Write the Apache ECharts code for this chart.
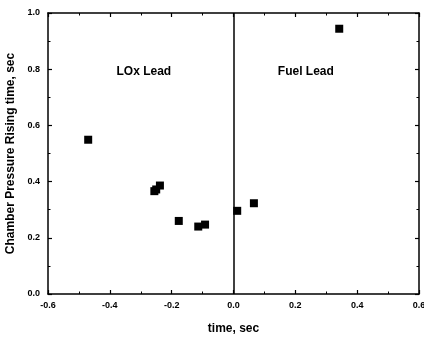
<!DOCTYPE html>
<html><head><meta charset="utf-8">
<script src="https://cdn.jsdelivr.net/npm/echarts@6/dist/echarts.min.js"></script>
<style>html,body{margin:0;padding:0;background:#fff}#c{width:424px;height:337px}</style>
</head><body><div id="c"></div>
<script>
const timeValues = [-0.47, -0.256, -0.25, -0.238, -0.177, -0.114, -0.092, 0.012, 0.066, 0.342];
const riseValues = [0.549, 0.366, 0.372, 0.386, 0.260, 0.240, 0.247, 0.296, 0.323, 0.944];
const regionLabels = ['LOx Lead', 'Fuel Lead'];
const regionX = [-0.29, 0.234];
const regionY = [0.79, 0.79];

const chart = echarts.init(document.getElementById('c'));
function axisCommon() {
  return {
    axisLine: {show: true, onZero: false, lineStyle: {color: '#000', width: 1.5}},
    axisTick: {show: true, inside: true, length: 4, lineStyle: {color: '#000', width: 1.2}},
    minorTick: {show: true, splitNumber: 2, length: 2.5, lineStyle: {color: '#000', width: 1}},
    splitLine: {show: false}
  };
}
const labelStyle = {color: '#000', fontSize: 9, fontWeight: 'bold', fontFamily: 'Liberation Sans'};
const titleStyle = {color: '#000', fontSize: 12, fontWeight: 'bold', fontFamily: 'Liberation Sans'};
chart.setOption({
  animation: false,
  backgroundColor: '#fff',
  grid: {left: 48, right: 5, top: 13, bottom: 43, outerBoundsMode: 'none', containLabel: false},
  xAxis: [
    Object.assign({type: 'value', min: -0.6, max: 0.6, interval: 0.2, position: 'bottom',
      name: 'time, sec', nameLocation: 'middle', nameGap: 29, nameTextStyle: titleStyle,
      axisLabel: Object.assign({margin: 7, formatter: v => v.toFixed(1)}, labelStyle)}, axisCommon()),
    Object.assign({type: 'value', min: -0.6, max: 0.6, interval: 0.2, position: 'top',
      axisLabel: {show: false}}, axisCommon())
  ],
  yAxis: [
    Object.assign({type: 'value', min: 0, max: 1, interval: 0.2, position: 'left',
      name: 'Chamber Pressure Rising time, sec', nameLocation: 'middle', nameGap: 27, nameTextStyle: titleStyle,
      axisLabel: Object.assign({margin: 8, formatter: v => v.toFixed(1)}, labelStyle)}, axisCommon()),
    Object.assign({type: 'value', min: 0, max: 1, interval: 0.2, position: 'right',
      axisLabel: {show: false}}, axisCommon())
  ],
  series: [{
    type: 'scatter',
    symbol: 'rect',
    symbolSize: 8,
    itemStyle: {color: '#000', opacity: 1},
    data: timeValues.map((x, i) => [x, riseValues[i]]),
    markLine: {
      silent: true, symbol: 'none', label: {show: false},
      lineStyle: {color: '#000', width: 1.5, type: 'solid'},
      data: [{xAxis: 0}]
    },
    markPoint: {
      symbol: 'circle', symbolSize: 0,
      label: {show: true, color: '#000', fontSize: 12, fontWeight: 'bold', fontFamily: 'Liberation Sans',
        formatter: p => p.name, position: 'inside'},
      data: regionLabels.map((n, i) => ({name: n, coord: [regionX[i], regionY[i]]}))
    }
  }]
});
</script></body></html>
